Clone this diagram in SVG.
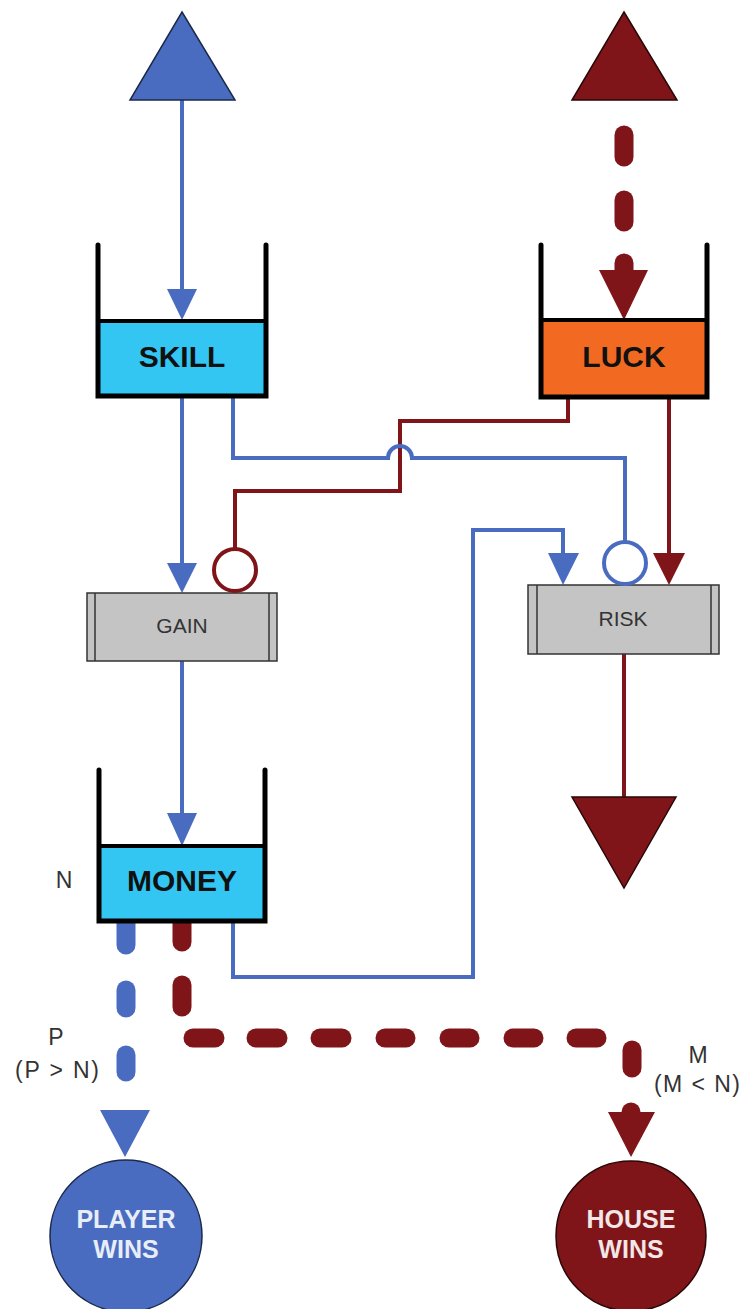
<svg xmlns="http://www.w3.org/2000/svg" width="743" height="1309" viewBox="0 0 743 1309">
<style>
.bl{stroke:#4a6cc0;stroke-width:4;fill:none;stroke-linejoin:miter}
.rd{stroke:#7f1518;stroke-width:4;fill:none;stroke-linejoin:miter}
.bah{fill:#4a6cc0}
.rah{fill:#7f1518}
.bd{stroke:#4a6cc0;stroke-width:19;stroke-linecap:round;fill:none}
.rdd{stroke:#7f1518;stroke-width:19;stroke-linecap:round;fill:none}
.wall{stroke:#000;stroke-width:5;fill:none;stroke-linecap:round;stroke-linejoin:miter}
.liq{stroke:#000;stroke-width:4}
.big{font-family:"Liberation Sans",Arial,sans-serif;font-weight:bold;font-size:30px;fill:#111;text-anchor:middle}
.lab{font-family:"Liberation Sans",Arial,sans-serif;font-size:21px;fill:#333;text-anchor:middle}
.note{font-family:"Liberation Sans",Arial,sans-serif;font-size:23px;fill:#333;text-anchor:middle}
.proc{fill:#c4c4c4;stroke:#333;stroke-width:1.5}
.pin{stroke:#333;stroke-width:1.5}
.win{font-family:"Liberation Sans",Arial,sans-serif;font-weight:bold;font-size:25px;text-anchor:middle}
</style>

<g id="connectors">
  <line class="bl" x1="182" y1="100" x2="182" y2="292"/>
  <polygon class="bah" points="167,289 197,289 182,320"/>
  <line class="rdd" x1="624" y1="135" x2="624" y2="157"/>
  <line class="rdd" x1="624" y1="200" x2="624" y2="222"/>
  <line class="rdd" x1="624" y1="263" x2="624" y2="290"/>
  <polygon class="rah" points="599,270 648,270 624,320"/>
  <line class="bl" x1="182" y1="396" x2="182" y2="566"/>
  <polygon class="bah" points="167,563 197,563 182,593"/>
  <path class="rd" d="M568,396 V421 H400 V491 H235 V549"/>
  <path class="bl" d="M233,396 V458 H388 A12,12 0 0 1 412,458 H625 V542"/>
  <line class="rd" x1="669" y1="396" x2="669" y2="556"/>
  <polygon class="rah" points="653,553 685,553 669,585"/>
  <path class="bl" d="M233,921 V977 H473 V530 H563 V556"/>
  <polygon class="bah" points="548,553 579,553 563,585"/>
  <line class="bl" x1="182" y1="661" x2="182" y2="816"/>
  <polygon class="bah" points="167,813 197,813 182,846"/>
  <line class="rd" x1="624" y1="654" x2="624" y2="800"/>
  <line class="bd" x1="126" y1="915" x2="126" y2="945"/>
  <line class="bd" x1="126" y1="990" x2="126" y2="1008"/>
  <line class="bd" x1="126" y1="1055" x2="126" y2="1072"/>
  <polygon class="bah" points="100,1110 150,1110 125,1157"/>
  <line class="rdd" x1="182" y1="915" x2="182" y2="942"/>
  <line class="rdd" x1="182" y1="985" x2="182" y2="1007"/>
  <line class="rdd" x1="193" y1="1038" x2="215" y2="1038"/>
  <line class="rdd" x1="256" y1="1038" x2="278" y2="1038"/>
  <line class="rdd" x1="320" y1="1038" x2="342" y2="1038"/>
  <line class="rdd" x1="385" y1="1038" x2="406" y2="1038"/>
  <line class="rdd" x1="449" y1="1038" x2="470" y2="1038"/>
  <line class="rdd" x1="513" y1="1038" x2="534" y2="1038"/>
  <line class="rdd" x1="576" y1="1038" x2="597" y2="1038"/>
  <line class="rdd" x1="632" y1="1050" x2="632" y2="1068"/>
  <line class="rdd" x1="631" y1="1112" x2="631" y2="1130"/>
  <polygon class="rah" points="608,1112 655,1112 631,1157"/>
</g>

<g id="source-skill">
  <polygon points="182,12 235,100 130,100" fill="#4a6cc0" stroke="#1b2a4a" stroke-width="1.5"/>
</g>
<g id="source-luck">
  <polygon points="624,12 677,100 572,100" fill="#7f1518" stroke="#2a0607" stroke-width="1.5"/>
</g>

<g id="skill">
  <rect class="liq" x="98" y="321" width="168" height="75" fill="#33c6f2"/>
  <path class="wall" d="M98,245 V396 H266 V245"/>
  <text class="big" x="182" y="367">SKILL</text>
</g>

<g id="luck">
  <rect class="liq" x="541" y="320" width="166" height="77" fill="#f26a21"/>
  <path class="wall" d="M541,245 V397 H707 V245"/>
  <text class="big" x="624" y="367">LUCK</text>
</g>

<g id="gain">
  <rect class="proc" x="87" y="593" width="190" height="68"/>
  <line class="pin" x1="95" y1="593" x2="95" y2="661"/>
  <line class="pin" x1="269" y1="593" x2="269" y2="661"/>
  <text class="lab" x="182" y="633">GAIN</text>
  <circle cx="235" cy="570" r="21" fill="#fff" stroke="#7f1518" stroke-width="4"/>
</g>

<g id="risk">
  <rect class="proc" x="528" y="585" width="191" height="69"/>
  <line class="pin" x1="537" y1="585" x2="537" y2="654"/>
  <line class="pin" x1="711" y1="585" x2="711" y2="654"/>
  <text class="lab" x="623" y="626">RISK</text>
  <circle cx="625" cy="563" r="21" fill="#fff" stroke="#4a6cc0" stroke-width="4"/>
</g>

<g id="money">
  <rect class="liq" x="99" y="846" width="166" height="75" fill="#33c6f2"/>
  <path class="wall" d="M99,770 V921 H265 V770"/>
  <text class="big" x="182" y="891">MONEY</text>
  <text class="note" x="64" y="888">N</text>
</g>

<g id="sink-risk">
  <polygon points="572,797 676,797 624,888" fill="#7f1518" stroke="#2a0607" stroke-width="1.5"/>
</g>

<g id="label-p">
  <text class="note" x="56" y="1045">P</text>
  <text class="note" x="57" y="1078" textLength="84" lengthAdjust="spacing">(P &gt; N)</text>
</g>

<g id="label-m">
  <text class="note" x="698" y="1063">M</text>
  <text class="note" x="697" y="1092" textLength="86" lengthAdjust="spacing">(M &lt; N)</text>
</g>

<g id="player-wins">
  <circle cx="126" cy="1236" r="76" fill="#4a6cc0" stroke="#1b2a4a" stroke-width="1.5"/>
  <text class="win" x="126" y="1228" fill="#e8eef8">PLAYER</text>
  <text class="win" x="126" y="1258" fill="#e8eef8">WINS</text>
</g>

<g id="house-wins">
  <circle cx="631" cy="1236" r="75" fill="#7f1518" stroke="#2a0607" stroke-width="1.5"/>
  <text class="win" x="631" y="1228" fill="#f3e6e6">HOUSE</text>
  <text class="win" x="631" y="1258" fill="#f3e6e6">WINS</text>
</g>
</svg>
